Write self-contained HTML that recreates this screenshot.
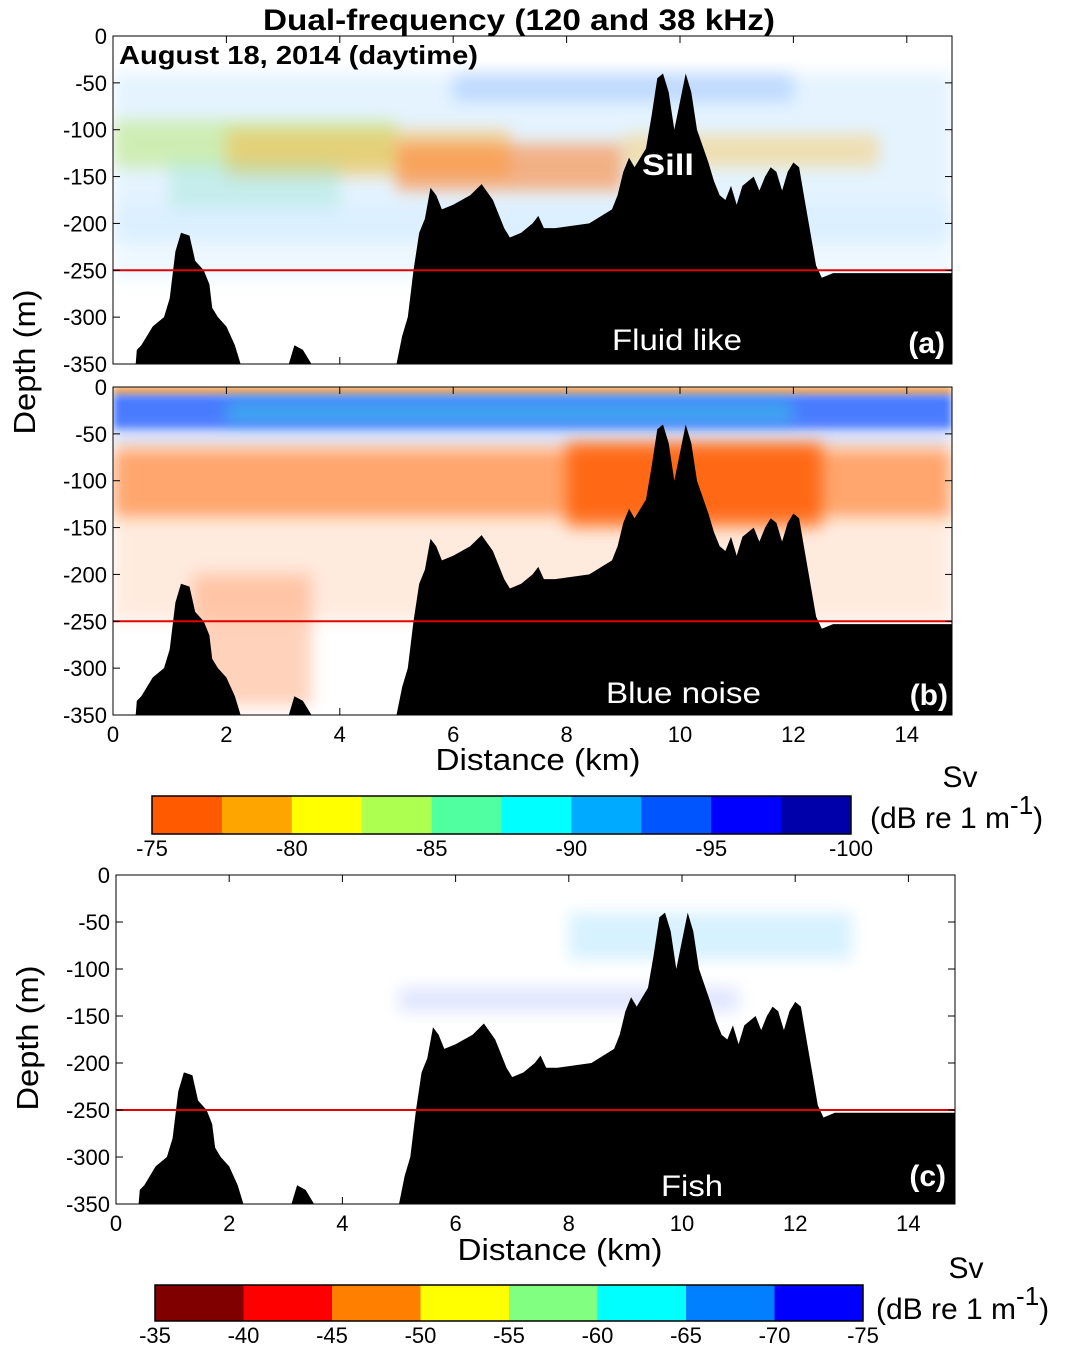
<!DOCTYPE html>
<html><head><meta charset="utf-8">
<style>
html,body{margin:0;padding:0;background:#fff;}
svg{display:block;font-family:"Liberation Sans",Arial,sans-serif;}
</style></head>
<body>
<svg id="fig" width="1068" height="1356" viewBox="0 0 1068 1356" xmlns="http://www.w3.org/2000/svg">
<defs>
<filter id="blur8" x="-20%" y="-50%" width="140%" height="200%"><feGaussianBlur stdDeviation="8"/></filter>
<filter id="blur4" x="-20%" y="-50%" width="140%" height="200%"><feGaussianBlur stdDeviation="4"/></filter>
<clipPath id="clipA"><rect x="113" y="36" width="839" height="328"/></clipPath>
<clipPath id="clipB"><rect x="113" y="387" width="839" height="328"/></clipPath>
<clipPath id="clipC"><rect x="116" y="875" width="839" height="329"/></clipPath>
</defs>
<text x="263" y="30" font-size="30" font-weight="bold" textLength="512" lengthAdjust="spacingAndGlyphs">Dual-frequency (120 and 38 kHz)</text>
<g id="root"></g>
</svg>
<script>
// Bottom profile (distance km, depth m)
const distKm = [0,0.4,0.42,0.5,0.7,0.9,1.0,1.1,1.2,1.35,1.45,1.6,1.7,1.75,1.85,2.0,2.15,2.25,3.1,3.2,3.35,3.5,5.0,5.1,5.2,5.3,5.4,5.5,5.6,5.7,5.8,6.0,6.3,6.5,6.7,6.9,7.0,7.2,7.4,7.5,7.6,7.8,8.4,8.8,8.9,9.0,9.1,9.2,9.4,9.5,9.6,9.7,9.8,9.9,10.0,10.1,10.2,10.3,10.5,10.6,10.7,10.8,10.9,11.0,11.1,11.3,11.4,11.5,11.6,11.7,11.8,11.9,12.0,12.1,12.2,12.3,12.4,12.5,12.7,14.9];
const depthM = [-350,-350,-335,-330,-310,-300,-280,-230,-210,-213,-240,-250,-265,-290,-300,-310,-330,-350,-350,-330,-335,-350,-350,-320,-300,-250,-210,-195,-162,-170,-185,-180,-170,-158,-175,-205,-215,-210,-200,-192,-205,-205,-200,-185,-170,-145,-130,-140,-120,-85,-45,-40,-60,-100,-70,-40,-60,-100,-135,-155,-170,-175,-160,-180,-160,-150,-165,-150,-140,-145,-165,-145,-135,-140,-175,-210,-245,-258,-253,-253];
const yTicks = [0,-50,-100,-150,-200,-250,-300,-350];
const xTicks = [0,2,4,6,8,10,12,14];
const redLineDepth = -250;
const cb1Colors = ['#ff5a00','#ffa500','#ffff00','#adff50','#50ffa0','#00ffff','#00aaff','#0055ff','#0000ff','#0000aa'];
const cb1Labels = ['-75','-80','-85','-90','-95','-100'];
const cb2Colors = ['#800000','#ff0000','#ff8000','#ffff00','#80ff80','#00ffff','#0080ff','#0000ff'];
const cb2Labels = ['-35','-40','-45','-50','-55','-60','-65','-70','-75'];

const NS='http://www.w3.org/2000/svg';
const root=document.getElementById('root');
function mk(tag,attrs,parent){const e=document.createElementNS(NS,tag);for(const k in attrs)e.setAttribute(k,attrs[k]);(parent||root).appendChild(e);return e;}

function panel(p){
  const xs=d=>p.x0+d*p.pxKm, ys=m=>p.y0-m*p.pxM;
  const g=mk('g',{});
  
  
  const inner=mk('g',{'clip-path':'url(#'+p.clip+')'},g);
  p.bands.forEach(b=>{
    const r=mk('rect',{x:xs(b[0]),y:ys(b[2]),width:xs(b[1])-xs(b[0]),height:ys(b[3])-ys(b[2]),fill:b[4],opacity:b[5],filter:'url(#'+(b[6]||'blur8')+')'},inner);
    
    
  });
  let d='M'+xs(distKm[0])+','+ys(-360);
  for(let i=0;i<distKm.length;i++) d+=' L'+xs(distKm[i]).toFixed(1)+','+ys(depthM[i]).toFixed(1);
  d+=' L'+xs(distKm[distKm.length-1])+','+ys(-360)+' Z';
  const bt=mk('path',{d:d,fill:'#000'},inner);
  
  
  const rl=mk('line',{x1:p.x0,x2:p.x0+p.w,y1:ys(redLineDepth),y2:ys(redLineDepth),stroke:'#e00000','stroke-width':2},inner);
  
  
  const fr=mk('rect',{x:p.x0,y:p.y0,width:p.w,height:350*p.pxM,fill:'none',stroke:'#000','stroke-width':1},g);
  
  
  yTicks.forEach(t=>{
    const y=ys(t);
    mk('line',{x1:p.x0,x2:p.x0+7,y1:y,y2:y,stroke:'#000'},g);
    mk('line',{x1:p.x0+p.w,x2:p.x0+p.w-7,y1:y,y2:y,stroke:'#000'},g);
    const tx=mk('text',{x:p.x0-6,y:y+8,'font-size':22,'text-anchor':'end'},g);
    tx.textContent=t;
    
    
  });
  xTicks.forEach(t=>{
    const x=xs(t);
    mk('line',{x1:x,x2:x,y1:p.y0,y2:p.y0+7,stroke:'#000'},g);
    mk('line',{x1:x,x2:x,y1:ys(-350),y2:ys(-350)-7,stroke:'#000'},g);
    if(p.xlabels){
      const tx=mk('text',{x:x,y:ys(-350)+27,'font-size':22,'text-anchor':'middle'},g);
      tx.textContent=t;
      
      
    }
  });
  p.labels.forEach(l=>{
    const tx=mk('text',{x:l[0],y:l[1],'font-size':l[3],'font-weight':l[4]||'normal',fill:l[5]||'#fff','text-anchor':l[6]||'start'},g);
    if(l[8]){tx.setAttribute('textLength',l[8]);tx.setAttribute('lengthAdjust','spacingAndGlyphs');}
    tx.textContent=l[2];
    
    
  });
}

panel({name:'panel-a-fluid-like',x0:113,y0:36,w:839,pxKm:56.7,pxM:328/350,clip:'clipA',xlabels:false,
 bands:[[0,14.8,-40,-220,'#a8d8ff',0.3],[0,5,-90,-140,'#b8e86a',0.5],[2,7,-100,-150,'#ffb030',0.45],[5,9,-115,-165,'#ff7a20',0.55],[1,4,-135,-185,'#7fe0c0',0.3],[9,13.5,-105,-140,'#ffc040',0.4],[6,12,-40,-70,'#6aa0ff',0.3],[0,14.8,-180,-260,'#c8e8ff',0.3]],
 labels:[[119,64,'August 18, 2014 (daytime)',26,'bold','#000','start','date-label',359],[642,175,'Sill',30,'bold','#fff','start','sill-label',52],[612,350,'Fluid like',30,'normal','#fff','start','fluid-like-label',130],[945,353,'(a)',30,'bold','#fff','end','panel-a-tag']]});
panel({name:'panel-b-blue-noise',x0:113,y0:387,w:839,pxKm:56.7,pxM:328/350,clip:'clipB',xlabels:true,
 bands:[[0,14.8,0,-8,'#ff8000',0.9,'blur4'],[0,14.8,-8,-45,'#1050ff',0.75,'blur4'],[2,12,-15,-40,'#30d0e0',0.5],[0,14.8,-40,-60,'#80a0ff',0.4],[0,14.8,-65,-140,'#ff6a10',0.6],[8,12.5,-60,-150,'#ff5a00',0.8],[0,14.8,-140,-250,'#ffb080',0.25],[1.4,3.5,-200,-340,'#ff8040',0.35]],
 labels:[[606,703,'Blue noise',30,'normal','#fff','start','blue-noise-label',155],[948,705,'(b)',30,'bold','#fff','end','panel-b-tag']]});
panel({name:'panel-c-fish',x0:116,y0:875,w:839,pxKm:56.6,pxM:329/350,clip:'clipC',xlabels:true,
 bands:[[8,13,-40,-90,'#60c8ff',0.25],[5,11,-120,-145,'#6080ff',0.2]],
 labels:[[661,1196,'Fish',30,'normal','#fff','start','fish-label',62],[946,1186,'(c)',30,'bold','#fff','end','panel-c-tag']]});

function axisText(txt,x,y,size,rot,name,len){
  const t=mk('text',{x:x,y:y,'font-size':size,'text-anchor':'middle',textLength:len,lengthAdjust:'spacingAndGlyphs'});
  if(rot)t.setAttribute('transform','rotate(-90 '+x+' '+y+')');
  t.textContent=txt;
  
  
}
axisText('Depth (m)',35,362,31,true,'y-axis-title-top',145);
axisText('Depth (m)',38,1038,31,true,'y-axis-title-bottom',145);
axisText('Distance (km)',538,770,31,false,'x-axis-title-b',205);
axisText('Distance (km)',560,1260,31,false,'x-axis-title-c',205);

function colorbar(x,y,w,h,colors,labels,name,titleX,titleY){
  const g=mk('g',{});
  
  
  const sw=w/colors.length;
  colors.forEach((c,i)=>{
    const r=mk('rect',{x:x+i*sw,y:y,width:sw+0.5,height:h,fill:c},g);
    
    
  });
  mk('rect',{x:x,y:y,width:w,height:h,fill:'none',stroke:'#000','stroke-width':1.5},g);
  const step=w/(labels.length-1);
  labels.forEach((l,i)=>{
    const t=mk('text',{x:x+i*step,y:y+h+22,'font-size':22,'text-anchor':'middle'},g);
    t.textContent=l;
    
    
  });
  const t1=mk('text',{x:titleX,y:titleY,'font-size':30,'text-anchor':'middle'},g);
  t1.textContent='Sv';
  
  
  const t2=mk('text',{x:titleX-90,y:titleY+41,'font-size':30},g);
  t2.innerHTML='(dB re 1 m<tspan dy="-14" font-size="26">-1</tspan><tspan dy="14">)</tspan>';
  
  
}
colorbar(152,796,699,38,cb1Colors,cb1Labels,'colorbar-top',960,787);
colorbar(155,1285,708,36,cb2Colors,cb2Labels,'colorbar-bottom',966,1278);
</script>
</body></html>
